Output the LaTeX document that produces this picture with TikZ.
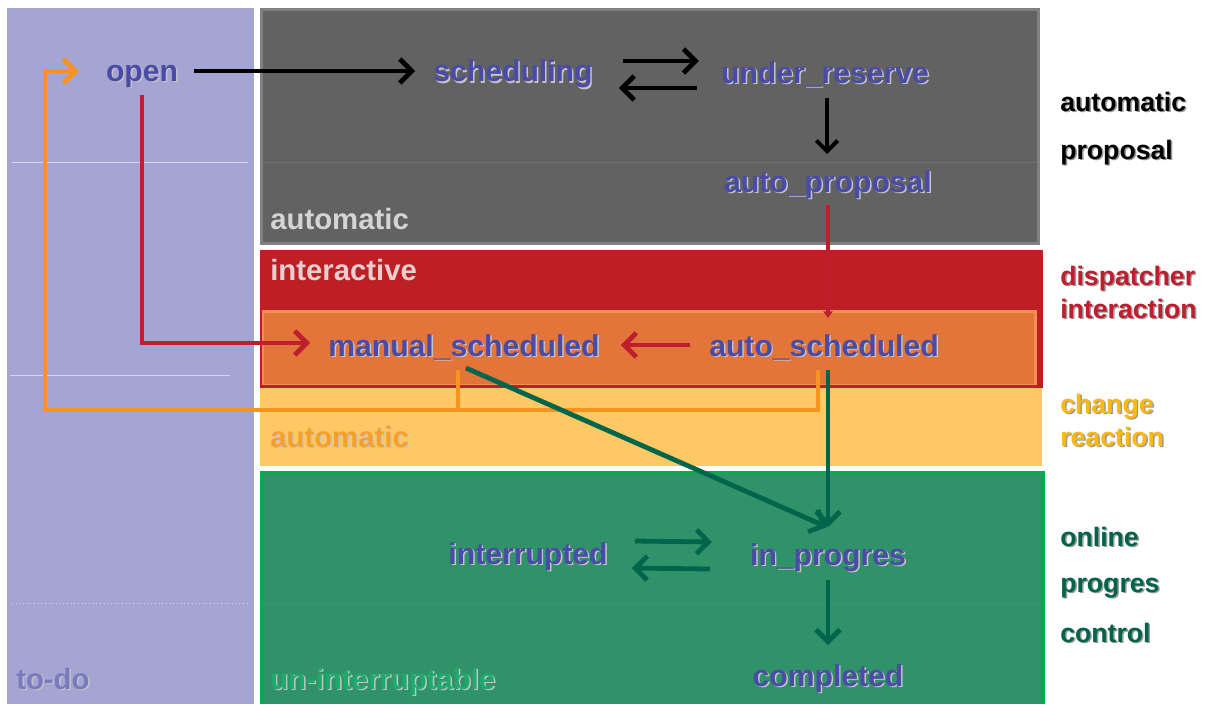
\documentclass[tikz,border=0pt]{standalone}
\usepackage{fontspec}
\setmainfont{Liberation Sans}
\usetikzlibrary{arrows.meta,calc}
\definecolor{todo}{HTML}{A5A5D3}
\definecolor{todotext}{HTML}{7A7AC0}
\definecolor{greyfill}{HTML}{626262}
\definecolor{greyedge}{HTML}{808080}
\definecolor{greytext}{HTML}{D4D4D4}
\definecolor{redfill}{HTML}{BD1F25}
\definecolor{redtext}{HTML}{E8CFCF}
\definecolor{orangefill}{HTML}{E3743A}
\definecolor{orangeedge}{HTML}{F2914F}
\definecolor{yellowfill}{HTML}{FEC865}
\definecolor{yellowtext}{HTML}{F6A02A}
\definecolor{greenfill}{HTML}{2F9269}
\definecolor{greenedge}{HTML}{00AC4E}
\definecolor{greentext}{HTML}{1DAA6C}
\definecolor{nodeblue}{HTML}{4A4BA6}
\definecolor{arrred}{HTML}{BE1E2D}
\definecolor{arrorange}{HTML}{F7941D}
\definecolor{arrgreen}{HTML}{00654A}
\definecolor{lblred}{HTML}{BE1E2D}
\definecolor{lblyellow}{HTML}{FDB913}
\definecolor{lblgreen}{HTML}{00634A}
\definecolor{shadelight}{HTML}{C4C4C4}
\definecolor{shadedark}{HTML}{9A9A9A}
\newcommand{\shadowtext}[2]{\rlap{\kern1.1pt\raisebox{-1.1pt}{\color{#1}#2}}#2}
\begin{document}
\begin{tikzpicture}[x=0.75pt,y=-0.75pt,
  state/.style={font=\fontsize{22.6}{26}\selectfont\bfseries, text=nodeblue, inner sep=0pt},
  side/.style={font=\fontsize{20}{24}\selectfont\bfseries, anchor=base west, inner sep=0pt},
  region/.style={font=\fontsize{22}{26}\selectfont\bfseries, anchor=base west, inner sep=0pt},
  conn/.style={line width=3.6pt, -{Straight Barb[length=9pt,width=18pt]}},
  blk/.style={conn, draw=black},
  thinblk/.style={line width=3pt, draw=black, -{Straight Barb[length=8pt,width=16pt]}},
  redc/.style={conn, draw=arrred},
  orc/.style={conn, draw=arrorange},
  orline/.style={line width=3.6pt, draw=arrorange},
  grc/.style={conn, draw=arrgreen},
  smalltip/.style={line width=3.6pt, draw=arrred, -{Triangle[length=5pt,width=7pt]}}
]
\useasboundingbox (0,0) rectangle (1205,704);
\fill[white] (0,0) rectangle (1205,704);
% lanes
\fill[todo] (7,8) rectangle (254,704);
\fill[greyedge] (260,8) rectangle (1040,245);
\fill[greyfill] (263,11) rectangle (1037,242);
\fill[redfill] (260,250) rectangle (1043,388);
\fill[orangeedge] (262,310) rectangle (1037,385);
\fill[orangefill] (264,313) rectangle (1034,384);
\fill[yellowfill] (260,388) rectangle (1042,466);
\fill[greenedge] (260,471) rectangle (1045,704);
\fill[greenfill] (263,474) rectangle (1041,704);
% faint grid lines
\draw[white, opacity=.55, line width=.75pt] (12,162) -- (248,162);
\draw[white, opacity=.08, line width=.75pt] (263,162) -- (1037,162);
\draw[white, opacity=.55, line width=.75pt] (10,375) -- (230,375);
\draw[white, opacity=.55, line width=.75pt, dotted] (12,603) -- (250,603);
\draw[white, opacity=.05, line width=.75pt] (263,603) -- (1041,603);
% region labels
\node[region, text=greytext] (rauto) at (270,229) {automatic};
\node[region, text=redtext] (rinter) at (270,280) {interactive};
\node[region, text=yellowtext] (rauto2) at (270,447) {\shadowtext{shadelight}{automatic}};
\node[region, text=greentext] (runint) at (270,689) {\shadowtext{shadelight}{un-interruptable}};
\node[region, text=todotext] (rtodo) at (16,689) {\shadowtext{shadelight}{to-do}};
% states
\node[state] (open) at (142,77) {\shadowtext{shadelight}{open}};
\node[state] (sched) at (513,75) {\shadowtext{shadelight}{scheduling}};
\node[state] (under) at (825,75) {\shadowtext{shadelight}{under\_reserve}};
\node[state] (autoprop) at (828,185) {\shadowtext{shadelight}{auto\_proposal}};
\node[state] (manual) at (464,348) {\shadowtext{shadelight}{manual\_scheduled}};
\node[state] (autosched) at (824,348) {\shadowtext{shadelight}{auto\_scheduled}};
\node[state] (interr) at (528,557) {\shadowtext{shadelight}{interrupted}};
\node[state] (inprog) at (828,558) {\shadowtext{shadelight}{in\_progres}};
\node[state] (compl) at (828,679) {\shadowtext{shadelight}{completed}};
% side labels
\node[side, text=black] (s1) at (1060,111) {\shadowtext{shadedark}{automatic}};
\node[side, text=black] (s2) at (1060,159) {\shadowtext{shadedark}{proposal}};
\node[side, text=lblred] (s3) at (1060,285) {\shadowtext{shadedark}{dispatcher}};
\node[side, text=lblred] (s4) at (1060,318) {\shadowtext{shadedark}{interaction}};
\node[side, text=lblyellow] (s5) at (1060,413) {\shadowtext{shadedark}{change}};
\node[side, text=lblyellow] (s6) at (1060,446) {\shadowtext{shadedark}{reaction}};
\node[side, text=lblgreen] (s7) at (1060,546) {\shadowtext{shadedark}{online}};
\node[side, text=lblgreen] (s8) at (1060,592) {\shadowtext{shadedark}{progres}};
\node[side, text=lblgreen] (s9) at (1060,642) {\shadowtext{shadedark}{control}};
% connectors
\coordinate (fb) at (45,410);
\draw[blk] ($(open.east)+(16,-6)$) -- ($(sched.west)+(-18,-4)$);
\draw[blk] ($(sched.east)+(30,-14)$) -- ($(under.west)+(-22,-14)$);
\draw[blk] ($(under.west)+(-24,13)$) -- ($(sched.east)+(26,13)$);
\draw[thinblk] ($(under.center)+(2,23)$) -- ($(autoprop.center)+(-1,-31)$);
\draw[smalltip] ($(autoprop.center)+(0,20)$) -- ($(autosched.center)+(4,-30)$);
\draw[redc] ($(autosched.west)+(-19,-3)$) -- ($(manual.east)+(21,-3)$);
\draw[redc] ($(open.center)+(0,18)$) |- ($(manual.west)+(-18,-5)$);
\draw[orline] ($(manual.center)+(-6,22)$) |- (fb);
\draw[orc] ($(autosched.center)+(-6,22)$) |- (fb) |- ($(open.west)+(-27,-6)$);
\draw[grc] ($(manual.center)+(2,20)$) -- ($(inprog.center)+(-1,-31)$);
\draw[grc] ($(autosched.center)+(4,22)$) -- ($(inprog.center)+(0,-31)$);
\draw[grc] ($(interr.east)+(27,-16)$) -- ($(inprog.west)+(-38,-16)$);
\draw[grc] ($(inprog.west)+(-40,11)$) -- ($(interr.east)+(24,11)$);
\draw[grc] ($(inprog.center)+(0,22)$) -- ($(compl.center)+(0,-34)$);
\end{tikzpicture}
\end{document}
